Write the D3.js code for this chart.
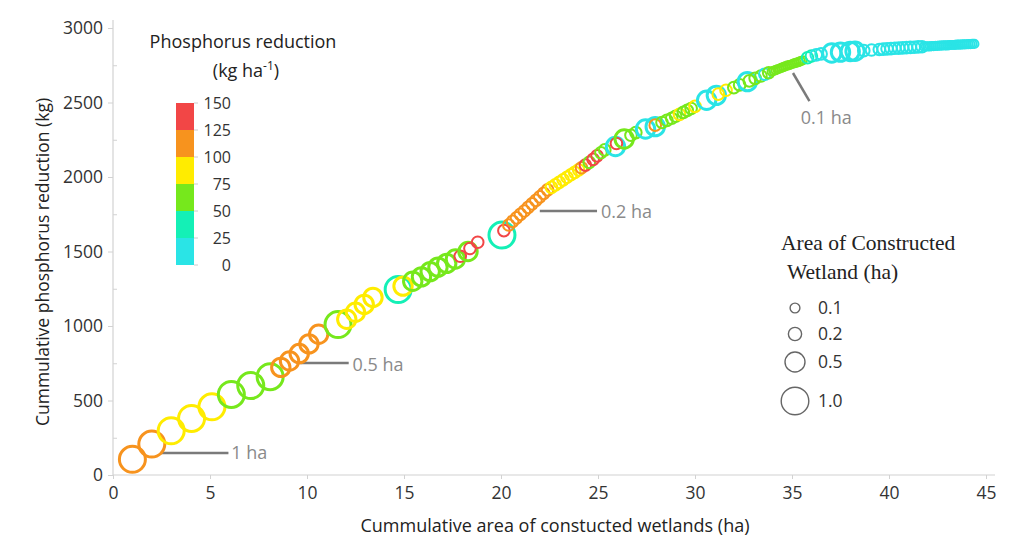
<!DOCTYPE html>
<html><head><meta charset="utf-8">
<script src="https://cdn.jsdelivr.net/npm/d3@7"></script>
<style>body{margin:0;background:#fff}svg{display:block}</style>
</head><body><svg id="c" width="1024" height="544"></svg>
<script>
// ---- data ----
const cumArea = [1.0,2.0,3.0,4.05,5.1,6.1,7.1,8.1,8.65,9.1,9.6,10.1,10.6,11.6,12.05,12.5,12.95,13.4,14.7,14.95,
15.45,15.9,16.35,16.75,17.2,17.65,17.9,18.3,18.4,18.8,20.05,20.15,
20.4,20.6,20.8,21.0,21.2,21.4,21.6,21.8,22.0,22.2,22.4,
22.6,22.8,23.0,23.2,23.4,23.6,23.8,24.0,
24.15,24.35,24.55,24.75,24.95,25.15,25.35,25.9,25.95,26.35,26.7,26.95,27.45,27.95,27.95,28.3,28.55,28.8,29.0,29.2,29.4,29.6,29.8,30.0,30.6,31.1,31.2,31.6,32.0,32.3,32.7,32.8,33.1,33.4,33.6,33.8,
33.95,34.05,34.15,34.25,34.35,34.45,34.55,34.65,34.75,34.85,34.95,35.05,35.15,35.25,35.35,35.45,35.55,
35.8,36.0,36.25,36.5,37.05,37.5,38.0,38.25,38.7,39.1,
39.5,39.7,39.9,40.1,40.3,40.5,40.7,40.9,41.1,41.3,41.5,41.7,
41.8,41.9,42.0,42.1,42.2,42.3,42.4,42.5,42.6,42.7,42.8,42.9,43.0,43.1,43.2,43.3,43.4,43.5,43.6,43.7,43.8,43.9,44.0,44.1,44.2,44.3,44.4];
const cumP = [105,208,297,380,458,541,600,660,722,765,815,880,945,1010,1045,1092,1145,1192,1245,1268,
1300,1330,1365,1395,1420,1450,1468,1500,1520,1562,1610,1640,
1678,1702,1726,1749,1772,1796,1820,1843,1867,1890,1914,
1930,1947,1964,1981,1998,2015,2031,2048,
2062,2080,2098,2118,2142,2163,2182,2205,2225,2255,2280,2298,2322,2338,2348,2366,2380,2394,2408,2420,2434,2447,2460,2474,2515,2548,2556,2582,2600,2618,2640,2645,2662,2678,2690,2700,
2707,2712,2717,2722,2727,2732,2737,2742,2747,2751,2755,2760,2764,2768,2773,2777,2782,
2800,2812,2820,2826,2832,2838,2842,2844,2848,2852,
2856,2858,2860,2862,2864,2865,2867,2868,2870,2871,2873,2874,
2875,2876,2876,2877,2878,2879,2880,2880,2881,2882,2883,2883,2884,2885,2886,2886,2887,2888,2888,2889,2890,2890,2891,2892,2892,2893,2893];
const wetArea = [1,1,1,1,1,1,1,1,0.5,0.5,0.5,0.5,0.5,1,0.5,0.5,0.5,0.5,1,0.5,
0.5,0.5,0.5,0.5,0.5,0.5,0.2,0.5,0.2,0.2,1,0.2,
0.2,0.2,0.2,0.2,0.2,0.2,0.2,0.2,0.2,0.2,0.2,
0.2,0.2,0.2,0.2,0.2,0.2,0.2,0.2,
0.2,0.2,0.2,0.2,0.2,0.2,0.2,0.5,0.2,0.5,0.2,0.2,0.5,0.5,0.2,0.2,0.2,0.2,0.2,0.2,0.2,0.2,0.2,0.2,0.5,0.5,0.2,0.2,0.2,0.2,0.5,0.2,0.2,0.2,0.2,0.2,
0.1,0.1,0.1,0.1,0.1,0.1,0.1,0.1,0.1,0.1,0.1,0.1,0.1,0.1,0.1,0.1,0.1,
0.2,0.2,0.2,0.2,0.5,0.5,0.5,0.5,0.2,0.2,
0.2,0.2,0.2,0.2,0.2,0.2,0.2,0.2,0.2,0.2,0.2,0.2,
0.1,0.1,0.1,0.1,0.1,0.1,0.1,0.1,0.1,0.1,0.1,0.1,0.1,0.1,0.1,0.1,0.1,0.1,0.1,0.1,0.1,0.1,0.1,0.1,0.1,0.1,0.1];
const pRate = [110,105,90,85,80,70,65,60,115,115,115,110,110,60,90,90,85,85,35,85,
65,65,60,60,60,55,135,60,135,140,30,135,
112,112,115,115,112,118,115,112,110,115,112,
88,85,90,85,88,85,88,82,
110,135,65,130,135,60,70,15,135,65,60,70,15,15,110,65,60,70,60,80,65,70,60,80,15,15,90,85,60,70,15,60,55,60,20,60,
62,60,62,58,60,62,60,62,60,58,60,62,60,58,60,55,52,
35,35,20,20,15,15,15,15,15,15,
10,10,10,10,10,10,10,10,10,10,10,10,
5,5,5,5,5,5,5,5,5,5,5,5,5,5,5,5,5,5,5,5,5,5,5,5,5,5,5];
const xTicks = [0,5,10,15,20,25,30,35,40,45];
const yTicks = [0,500,1000,1500,2000,2500,3000];
const yMinorTicks = [250,750,1250,1750,2250,2750];
const colorBreaks = [25,50,75,100,125];
const colorStops = [0,25,50,75,100,125,150];
const binColors = ["#2ae4e6","#14f0b6","#76e81c","#ffec00","#f7931e","#f24646"];
const sizeLegend = [0.1,0.2,0.5,1.0];
const sizeLegendLabels = ["0.1","0.2","0.5","1.0"];
const calloutLabels = ["1 ha","0.5 ha","0.2 ha","0.1 ha"];

// ---- chart ----
const svg = d3.select("#c");
const x = d3.scaleLinear().domain([0,45]).range([113,986]);
const y = d3.scaleLinear().domain([0,3000]).range([475,28]);
const r = d3.scaleSqrt().domain([0,1]).range([0,13]);
const color = d3.scaleThreshold().domain(colorBreaks).range(binColors);
const sans = "'Open Sans','Noto Sans',sans-serif";
const serif = "'Liberation Serif','Times New Roman',serif";
const axisCol = "#d2d2d2";

// axes
svg.append("line").attr("x1",x(0)).attr("x2",995).attr("y1",y(0)).attr("y2",y(0)).attr("stroke",axisCol).attr("stroke-width",1.2);
svg.append("line").attr("x1",x(0)).attr("x2",x(0)).attr("y1",y(0)).attr("y2",20).attr("stroke",axisCol).attr("stroke-width",1.2);
svg.append("g").attr("transform",`translate(0,${y(0)})`)
  .call(d3.axisBottom(x).tickValues(xTicks).tickSize(4).tickPadding(8).tickFormat(d3.format("d")));
svg.append("g").attr("transform",`translate(${x(0)},0)`)
  .call(d3.axisLeft(y).tickValues(yTicks).tickSize(5).tickPadding(5).tickFormat(d3.format("d")));
svg.append("g").attr("transform",`translate(${x(0)},0)`)
  .call(d3.axisRight(y).tickValues(yMinorTicks).tickSize(4).tickFormat(""));
svg.selectAll(".domain").remove();
svg.selectAll(".tick line").attr("stroke",axisCol);
svg.selectAll(".tick text").attr("fill","#333").style("font-family",sans).style("font-size","17.5px");

svg.append("text").attr("x",555).attr("y",532).attr("text-anchor","middle")
  .style("font-family",sans).style("font-size","18px").attr("fill","#222")
  .text("Cummulative area of constucted wetlands (ha)");
svg.append("text").attr("transform","translate(49,262) rotate(-90)").attr("text-anchor","middle")
  .style("font-family",sans).style("font-size","17.5px").attr("fill","#222")
  .text("Cummulative phosphorus reduction (kg)");

// callouts (data coordinates)
const callouts = [
  {x1:2.45,y1:148,x2:5.95,y2:148,tx:6.1,ty:148},
  {x1:9.65,y1:752,x2:12.15,y2:752,tx:12.35,ty:740},
  {x1:22.0,y1:1772,x2:24.95,y2:1772,tx:25.15,ty:1768},
  {x1:35.05,y1:2698,x2:35.9,y2:2510,tx:35.45,ty:2400}
];
const cg = svg.append("g");
callouts.forEach((c,i)=>{
  cg.append("line").attr("x1",x(c.x1)).attr("y1",y(c.y1)).attr("x2",x(c.x2)).attr("y2",y(c.y2))
    .attr("stroke","#7a7a7a").attr("stroke-width",2.5);
  cg.append("text").attr("x",x(c.tx)).attr("y",y(c.ty)).attr("dy","0.35em")
    .style("font-family",sans).style("font-size","18px").attr("fill","#8a8a8a").text(calloutLabels[i]);
});

// points
const pts = cumArea.map((v,i)=>({x:v,y:cumP[i],a:wetArea[i],p:pRate[i]}));
svg.append("g").selectAll("circle").data(pts).join("circle")
  .attr("cx",d=>x(d.x)).attr("cy",d=>y(d.y)).attr("r",d=>r(d.a))
  .attr("fill","none").attr("stroke",d=>color(d.p))
  .attr("stroke-width",d=>d.a>=0.5?3:2);

// colour legend
const cb = d3.scaleLinear().domain([0,150]).range([265,103]);
const lg = svg.append("g");
lg.append("text").attr("x",243).attr("y",48).attr("text-anchor","middle")
  .style("font-family",sans).style("font-size","18px").attr("fill","#222").text("Phosphorus reduction");
const t2 = lg.append("text").attr("x",246).attr("y",77).attr("text-anchor","middle")
  .style("font-family",sans).style("font-size","18px").attr("fill","#222");
t2.append("tspan").text("(kg ha");
t2.append("tspan").attr("dy","-7").style("font-size","12px").text("-1");
t2.append("tspan").attr("dy","7").text(")");
lg.selectAll("rect").data(binColors).join("rect")
  .attr("x",176).attr("width",18)
  .attr("y",(d,i)=>cb(colorStops[i+1])).attr("height",(d,i)=>cb(colorStops[i])-cb(colorStops[i+1]))
  .attr("fill",d=>d);
lg.selectAll("line.ct").data(colorStops).join("line").attr("class","ct")
  .attr("x1",194).attr("x2",198).attr("y1",d=>cb(d)).attr("y2",d=>cb(d)).attr("stroke","#ccc");
lg.selectAll("text.cl").data(colorStops).join("text").attr("class","cl")
  .attr("x",231).attr("y",d=>cb(d)).attr("dy","0.35em").attr("text-anchor","end")
  .style("font-family",sans).style("font-size","16px").attr("fill","#333").text(d=>d);

// size legend
const sl = svg.append("g");
sl.append("text").attr("x",781).attr("y",250).style("font-family",serif)
  .style("font-size","21.5px").attr("fill","#222").text("Area of Constructed");
sl.append("text").attr("x",787).attr("y",279).style("font-family",serif)
  .style("font-size","21.5px").attr("fill","#222").text("Wetland (ha)");
const slPos = [308,334,362,401];
sl.selectAll("circle").data(sizeLegend).join("circle")
  .attr("cx",795).attr("cy",(d,i)=>slPos[i]).attr("r",d=>r(d)+0.8)
  .attr("fill","none").attr("stroke","#666").attr("stroke-width",1.4);
sl.selectAll("text.sl").data(sizeLegendLabels).join("text").attr("class","sl")
  .attr("x",818).attr("y",(d,i)=>slPos[i]).attr("dy","0.35em")
  .style("font-family",sans).style("font-size","17.5px").attr("fill","#333").text(d=>d);
</script></body></html>
